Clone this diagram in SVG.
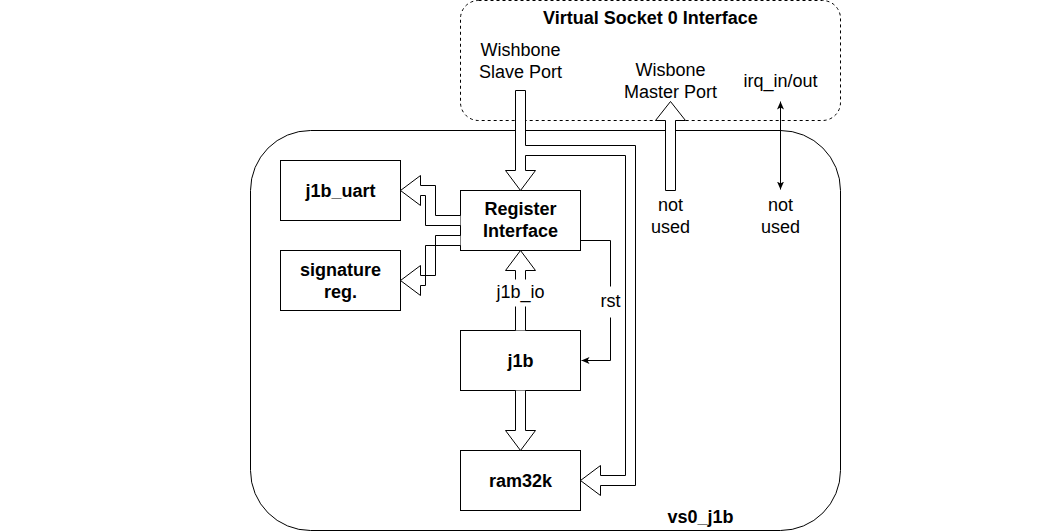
<svg xmlns="http://www.w3.org/2000/svg" width="1060" height="531" viewBox="0 0 1060 531">
<style>
text{font-family:"Liberation Sans",Arial,Helvetica,sans-serif;font-size:18px;fill:#000;text-anchor:middle}
.b{font-weight:bold}
.box{fill:#fff;stroke:#000;stroke-width:1}
.flex{fill:#fff;stroke:#000;stroke-width:1;stroke-linejoin:miter}
.line{fill:none;stroke:#000;stroke-width:1}
.lbg{fill:#fff;stroke:none}
</style>
<defs>
<marker id="ah" viewBox="0 0 8 8" refX="8" refY="4" markerWidth="8" markerHeight="8" markerUnits="userSpaceOnUse" orient="auto-start-reverse">
<path d="M0,0.5 L8,4 L0,7.5 L2,4 Z" fill="#000" stroke="none"/>
</marker>
</defs>
<rect width="1060" height="531" fill="#fff"/>
<g transform="translate(0.5,0.5)">
<g id="vs0-interface">
<rect x="460" y="0" width="380" height="120" rx="18" ry="18" fill="#fff" stroke="#000" stroke-dasharray="3 3"/>
<text class="b" x="650" y="23">Virtual Socket 0 Interface</text>
<text x="520" y="55">Wishbone</text>
<text x="520" y="77">Slave Port</text>
<text x="670" y="75">Wisbone</text>
<text x="670" y="97">Master Port</text>
<text x="780" y="86">irq_in/out</text>
</g>
<g id="vs0_j1b">
<rect x="250" y="130" width="590" height="400" rx="60" ry="60" fill="#fff" stroke="#000"/>
<text class="b" x="700" y="522">vs0_j1b</text>
</g>
<g id="j1b_uart">
<rect class="box" x="280" y="160" width="120" height="60"/>
<text class="b" x="340" y="196">j1b_uart</text>
</g>
<g id="signature_reg">
<rect class="box" x="280" y="250" width="120" height="60"/>
<text class="b" x="340" y="275">signature</text>
<text class="b" x="340" y="297">reg.</text>
</g>
<g id="register_interface">
<rect class="box" x="460" y="190" width="120" height="60"/>
<text class="b" x="520" y="214">Register</text>
<text class="b" x="520" y="236">Interface</text>
</g>
<g id="j1b">
<rect class="box" x="460" y="330" width="120" height="60"/>
<text class="b" x="520" y="366">j1b</text>
</g>
<g id="ram32k">
<rect class="box" x="460" y="450" width="120" height="60"/>
<text class="b" x="520" y="486">ram32k</text>
</g>
<g id="connectors">
<path class="flex" d="M515,90 L515,170 L505,170 L520,190 L535,170 L525,170 L525,155 L625,155 L625,475 L600,475 L600,465 L580,480 L600,495 L600,485 L635,485 L635,145 L525,145 L525,90 Z"/>
<path class="flex" d="M665,190 L665,120 L655,120 L670,101 L685,120 L675,120 L675,190 Z"/>
<path class="flex" d="M460,215 L435,215 L435,185 L420,185 L420,175 L400,190 L420,205 L420,195 L425,195 L425,225 L460,225"/>
<path class="flex" d="M460,235 L435,235 L435,275 L420,275 L420,265 L400,280 L420,295 L420,285 L425,285 L425,245 L460,245"/>
<path class="flex" d="M515,330 L515,270 L505,270 L520,250 L535,270 L525,270 L525,330"/>
<path class="flex" d="M515,390 L515,430 L505,430 L520,450 L535,430 L525,430 L525,390"/>
<rect class="lbg" x="493" y="279" width="54" height="27"/>
<text x="520" y="297">j1b_io</text>
<path class="line" d="M580,240 L610,240 L610,360 L581,360" marker-end="url(#ah)"/>
<rect class="lbg" x="598" y="286" width="24" height="31"/>
<text x="610" y="306">rst</text>
<path class="line" d="M780,101 L780,189" marker-start="url(#ah)" marker-end="url(#ah)"/>
<text x="670" y="210">not</text>
<text x="670" y="232">used</text>
<text x="780" y="210">not</text>
<text x="780" y="232">used</text>
</g>
</g>
</svg>
